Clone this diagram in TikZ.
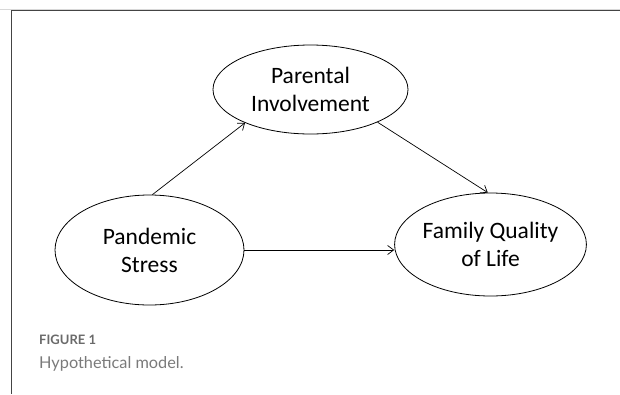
\documentclass[tikz,border=0pt]{standalone}
\usepackage{fontspec}
\setmainfont{Carlito}
\newfontfamily\capfont{Lato}
\usetikzlibrary{shapes.geometric,arrows.meta}
\definecolor{framegray}{HTML}{444444}
\definecolor{rulegray}{HTML}{D8D8D8}
\definecolor{labelgray}{HTML}{6A6A6A}
\definecolor{textgray}{HTML}{7A7A7A}
\tikzset{
  construct/.style={draw=black, line width=0.8pt, ellipse, inner sep=0pt,
    align=center, font=\fontsize{23.5}{28}\selectfont},
  path/.style={draw=black, line width=0.7pt,
    -{Straight Barb[length=6pt,width=9pt,line width=0.7pt]}},
}
\begin{document}
\begin{tikzpicture}[x=1pt,y=-1pt]
  \useasboundingbox (0,0) rectangle (620,394);
  % panel frame
  \draw[rulegray, line width=0.8pt] (0,9) -- (620,9);
  \draw[framegray, line width=1.2pt] (620,10.5) -- (11.5,10.5) -- (11.5,394);

  % constructs
  \node[construct, minimum width=195pt, minimum height=89pt] (par) at (310.5,89.5) {Parental\\Involvement};
  \node[construct, minimum width=189pt, minimum height=110pt] (pan) at (149.5,250) {Pandemic\\Stress};
  \node[construct, minimum width=183pt, minimum height=103pt] (fam) at (490.5,244.5) {Family Quality\\of Life};

  % hypothesised paths
  \draw[path] (pan.87) -- (par.207);
  \draw[path] (par.334) -- (fam.93);
  \draw[path] (pan.east) -- (fam.west |- pan.east);

  % caption
  \node[anchor=base west, inner sep=0pt, text=labelgray, font=\capfont\bfseries\fontsize{13}{15}\selectfont] (fig) at (39,344) {FIGURE 1};
  \node[anchor=base west, inner sep=0pt, text=textgray, font=\capfont\fontsize{16.3}{19}\selectfont] (cap) at (39,368) {Hypothetical model.};
\end{tikzpicture}
\end{document}
